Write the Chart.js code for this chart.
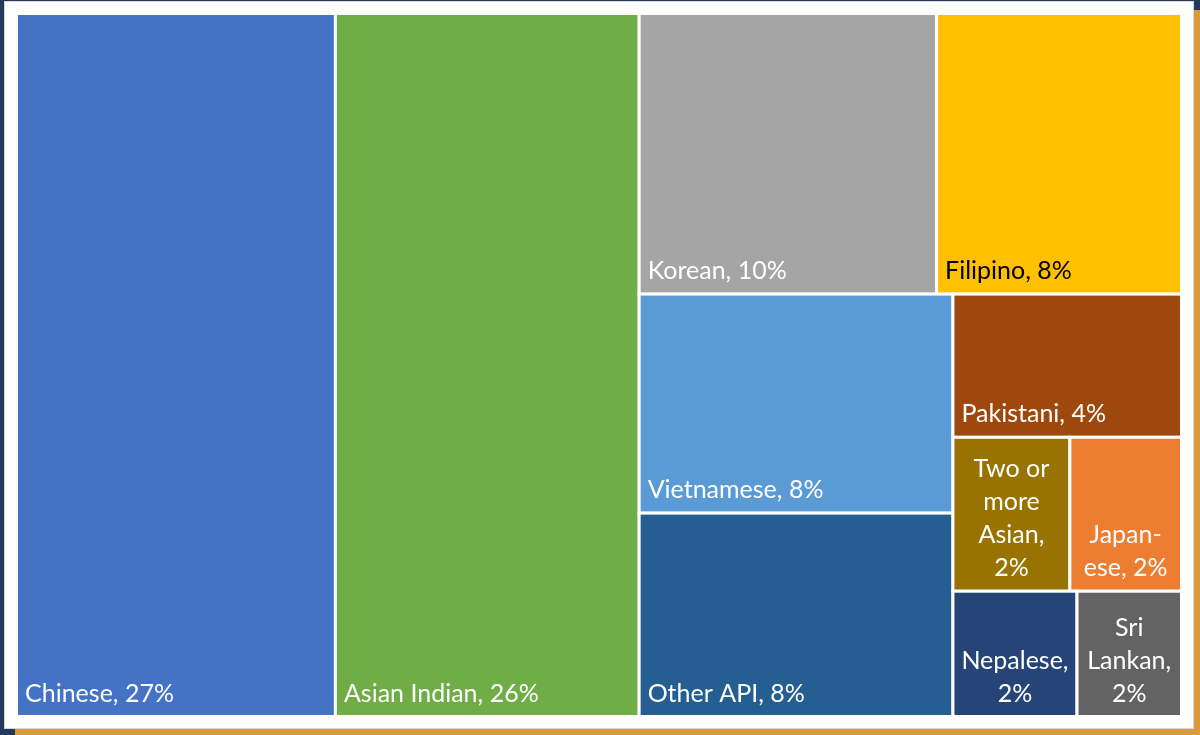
<!DOCTYPE html>
<html>
<head>
<meta charset="utf-8">
<script src="https://cdn.jsdelivr.net/npm/chart.js@4/dist/chart.umd.min.js"></script>
<style>
  html, body { margin: 0; padding: 0; }
  body { width: 1200px; height: 735px; background: #25395a; position: relative; overflow: hidden; }
  #gold { position: absolute; left: 15px; top: 10px; right: 0; bottom: 0; background: #d99b3a; }
  #panel { position: absolute; left: 4px; top: 1px; width: 1188px; height: 726px; background: #fff; border: 1px solid #d6d6d6; }
  #wrap { position: absolute; left: 0; top: 0; width: 1200px; height: 735px; }
</style>
</head>
<body>
<div id="gold"></div>
<div id="panel"></div>
<div id="wrap"><canvas id="chart"></canvas></div>
<script>
// soft hyphen (\u00AD) marks where a long word may break
const names = ["Chinese", "Asian Indian", "Korean", "Filipino", "Vietnamese", "Other API",
  "Pakistani", "Two or more Asian", "Japan\u00ADese", "Nepalese", "Sri Lankan"];
const values = [27.4, 26.1, 10.2, 8.4, 8.4, 7.8, 4.0, 2.2, 2.1, 1.9, 1.6];
const palette = ["#4472c4", "#70ad47", "#a5a5a5", "#ffc000", "#5b9bd5", "#255e91",
  "#9e480e", "#997300", "#ed7d31", "#264478", "#636363"];

// how the cells are nested: "h" splits side by side, "v" stacks top to bottom
const tree = { dir: "h", kids: [0, 1, { dir: "v", kids: [
  { dir: "h", kids: [2, 3] },
  { dir: "h", kids: [
    { dir: "v", kids: [4, 5] },
    { dir: "v", kids: [6, { dir: "h", kids: [7, 8] }, { dir: "h", kids: [9, 10] }] }
  ] }
] }] };

const total = values.reduce((a, b) => a + b, 0);

function sumOf(node) {
  return typeof node === "number" ? values[node] : node.kids.reduce((a, k) => a + sumOf(k), 0);
}

function layout(node, x0, y0, x1, y1, out) {
  if (typeof node === "number") {
    out[node] = { x0, y0, x1, y1 };
    return out;
  }
  const s = sumOf(node);
  let pos = node.dir === "h" ? x0 : y0;
  node.kids.forEach((k) => {
    const f = sumOf(k) / s;
    if (node.dir === "h") {
      const w = (x1 - x0) * f;
      layout(k, pos, y0, pos + w, y1, out);
      pos += w;
    } else {
      const h = (y1 - y0) * f;
      layout(k, x0, pos, x1, pos + h, out);
      pos += h;
    }
  });
  return out;
}

const cells = layout(tree, 0, 0, 1, 1, []);

function textColor(hex) {
  const r = parseInt(hex.slice(1, 3), 16), g = parseInt(hex.slice(3, 5), 16), b = parseInt(hex.slice(5, 7), 16);
  return (0.299 * r + 0.587 * g + 0.114 * b) > 170 ? "#000" : "#fff";
}

function wrapLabel(ctx, text, maxW) {
  const fits = (s) => ctx.measureText(s.replace(/\u00AD/g, "")).width <= maxW;
  const lines = [];
  let cur = "";
  for (const w of text.split(" ")) {
    const test = cur ? cur + " " + w : w;
    if (fits(test)) { cur = test; continue; }
    if (cur) lines.push(cur);
    cur = "";
    // break at soft hyphens if the word alone is too wide
    const parts = w.split("\u00AD");
    let piece = parts[0];
    for (let p = 1; p < parts.length; p++) {
      if (fits(piece + parts[p])) piece += parts[p];
      else { lines.push(piece + "-"); piece = parts[p]; }
    }
    cur = piece;
  }
  if (cur) lines.push(cur);
  return lines.map((l) => l.replace(/\u00AD/g, ""));
}

const treemapCells = {
  id: "treemapCells",
  afterDatasetsDraw(chart) {
    const { ctx, scales } = chart;
    const sx = scales.x, sy = scales.y;
    ctx.save();
    cells.forEach((c, i) => {
      const px0 = sx.getPixelForValue(c.x0), px1 = sx.getPixelForValue(c.x1);
      const py0 = sy.getPixelForValue(c.y0), py1 = sy.getPixelForValue(c.y1);
      ctx.fillStyle = palette[i];
      ctx.fillRect(px0, py0, px1 - px0, py1 - py0);
      ctx.strokeStyle = "#fff";
      ctx.lineWidth = 3;
      ctx.strokeRect(px0, py0, px1 - px0, py1 - py0);

      const pct = Math.round(values[i] / total * 100);
      const label = `${names[i]}, ${pct}%`;
      ctx.font = "25px Lato";
      ctx.fillStyle = textColor(palette[i]);
      ctx.textBaseline = "alphabetic";
      const pad = 7;
      const lines = wrapLabel(ctx, label, px1 - px0 - 2 * pad - 3);
      const lh = 33;
      const bottom = py1 - 15;
      lines.forEach((ln, j) => {
        const yy = bottom - (lines.length - 1 - j) * lh;
        if (lines.length > 1) {
          ctx.textAlign = "center";
          ctx.fillText(ln, (px0 + px1) / 2, yy);
        } else {
          ctx.textAlign = "left";
          ctx.fillText(ln, px0 + pad + 1.5, yy);
        }
      });
    });
    ctx.restore();
  }
};

new Chart(document.getElementById("chart"), {
  type: "scatter",
  data: {
    datasets: [{
      data: cells.map((c) => ({ x: (c.x0 + c.x1) / 2, y: (c.y0 + c.y1) / 2 })),
      pointRadius: 0
    }]
  },
  options: {
    responsive: true,
    maintainAspectRatio: false,
    animation: false,
    layout: { padding: { left: 16.5, right: 18.5, top: 13.5, bottom: 18.5 } },
    scales: {
      x: { type: "linear", min: 0, max: 1, display: false },
      y: { type: "linear", min: 0, max: 1, reverse: true, display: false }
    },
    plugins: { legend: { display: false }, tooltip: { enabled: false } }
  },
  plugins: [treemapCells]
});
</script>
</body>
</html>
